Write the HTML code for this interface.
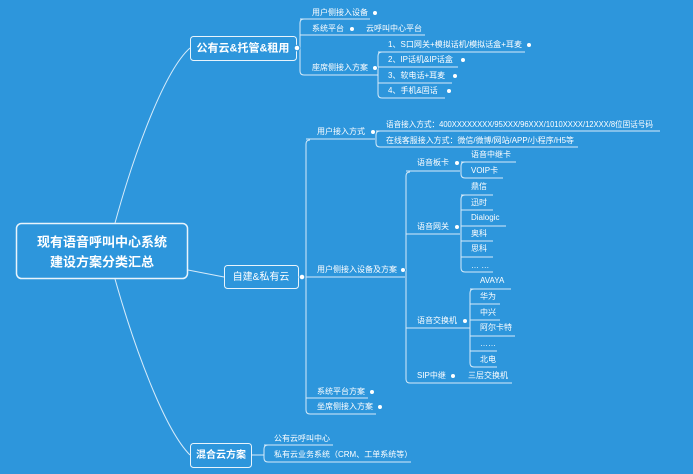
<!DOCTYPE html>
<html><head><meta charset="utf-8"><style>
html,body{margin:0;padding:0;background:#2d96dc;}
svg{display:block;font-family:"Liberation Sans","Noto Sans CJK SC",sans-serif;}
text{fill:#fff;font-size:8px;dominant-baseline:middle;}
</style></head><body>
<svg width="693" height="474" viewBox="0 0 693 474">
<rect width="693" height="474" fill="#2d96dc"/>
<g fill="none" stroke="#d6ebfa" stroke-width="1">
<path d="M115,223 C135,150 165,70 190,48"/>
<path d="M188,270 L224,277"/>
<path d="M115,279 C135,350 165,430 190,455"/>
<path d="M300,19 L370,19"/>
<path d="M300,35 L425,35"/>
<path d="M304,19 Q300,19 300,23 L300,71 Q300,75 304,75 L378,75"/>
<path d="M378,52 L525,52"/>
<path d="M378,67 L458,67"/>
<path d="M378,83 L452,83"/>
<path d="M382,52 Q378,52 378,56 L378,94 Q378,98 382,98 L445,98"/>
<path d="M310,140 Q306,140 306,144 L306,410 Q306,414 310,414 L376,414"/>
<path d="M306,139 L375,139"/>
<path d="M306,277 L405,277"/>
<path d="M306,398 L368,398"/>
<path d="M376,131 L660,131"/>
<path d="M380,131 Q376,131 376,135 L376,143 Q376,147 380,147 L578,147"/>
<path d="M410,172 Q406,172 406,176 L406,379 Q406,383 410,383 L512,383"/>
<path d="M406,171 L460,171"/>
<path d="M406,234 L460,234"/>
<path d="M406,328 L470,328"/>
<path d="M461,162 L516,162"/>
<path d="M465,162 Q461,162 461,166 L461,174 Q461,178 465,178 L503,178"/>
<path d="M461,195 L493,195"/>
<path d="M465,195 Q461,195 461,199 L461,268 Q461,272 465,272 L493,272"/>
<path d="M461,210 L493,210"/>
<path d="M461,226 L506,226"/>
<path d="M461,241 L493,241"/>
<path d="M461,257 L493,257"/>
<path d="M470,289 L511,289"/>
<path d="M474,289 Q470,289 470,293 L470,363 Q470,367 474,367 L497,367"/>
<path d="M470,304 L500,304"/>
<path d="M470,320 L500,320"/>
<path d="M470,336 L515,336"/>
<path d="M470,351 L497,351"/>
<path d="M264,445 L333,445"/>
<path d="M268,445 Q264,445 264,449 L264,458 Q264,462 268,462 L411,462"/>
<path d="M252,455 L264,455"/>
</g>
<g fill="#2d96dc" stroke="#e8f4fc" stroke-width="1">
<rect x="16.5" y="223.5" width="171" height="55" rx="5" stroke-width="1.5"/>
<rect x="190.5" y="36.5" width="106" height="24" rx="3"/>
<rect x="224.5" y="265.5" width="74" height="23" rx="3"/>
<rect x="190.5" y="443.5" width="61" height="24" rx="3"/>
</g>
<text x="102" y="243" text-anchor="middle" style="font-size:13px;font-weight:bold">现有语音呼叫中心系统</text>
<text x="102" y="263" text-anchor="middle" style="font-size:13px;font-weight:bold">建设方案分类汇总</text>
<text x="243" y="48.5" text-anchor="middle" style="font-size:11px;font-weight:bold">公有云&amp;托管&amp;租用</text>
<text x="261" y="277.5" text-anchor="middle" style="font-size:10px">自建&amp;私有云</text>
<text x="221" y="455.5" text-anchor="middle" style="font-size:10px;font-weight:bold">混合云方案</text>
<g fill="#fff" stroke="#2d96dc" stroke-width="1">
<circle cx="297" cy="48" r="2.8"/><circle cx="375" cy="13" r="2.5"/><circle cx="352" cy="29" r="2.5"/>
<circle cx="375" cy="68" r="2.5"/><circle cx="529" cy="45" r="2.5"/><circle cx="463" cy="60" r="2.5"/>
<circle cx="455" cy="76" r="2.5"/><circle cx="449" cy="91" r="2.5"/>
<circle cx="302" cy="277" r="2.8"/><circle cx="373" cy="132" r="2.5"/><circle cx="403" cy="270" r="2.5"/>
<circle cx="457" cy="163" r="2.5"/><circle cx="457" cy="227" r="2.5"/><circle cx="465" cy="321" r="2.5"/>
<circle cx="453" cy="376" r="2.5"/><circle cx="372" cy="392" r="2.5"/><circle cx="380" cy="407" r="2.5"/>
</g>
<text x="312" y="13">用户侧接入设备</text>
<text x="312" y="29">系统平台</text>
<text x="366" y="29">云呼叫中心平台</text>
<text x="312" y="68">座席侧接入方案</text>
<text x="388" y="45" textLength="134" lengthAdjust="spacingAndGlyphs">1、S口网关+模拟话机/模拟话盒+耳麦</text>
<text x="388" y="60">2、IP话机&amp;IP话盒</text>
<text x="388" y="76">3、软电话+耳麦</text>
<text x="388" y="91">4、手机&amp;固话</text>
<text x="317" y="132">用户接入方式</text>
<text x="386" y="125" textLength="267" lengthAdjust="spacingAndGlyphs">语音接入方式：400XXXXXXXX/95XXX/96XXX/1010XXXX/12XXX/8位固话号码</text>
<text x="386" y="141" textLength="188" lengthAdjust="spacingAndGlyphs">在线客服接入方式：微信/微博/网站/APP/小程序/H5等</text>
<text x="317" y="270">用户侧接入设备及方案</text>
<text x="417" y="163">语音板卡</text>
<text x="471" y="155">语音中继卡</text>
<text x="471" y="171">VOIP卡</text>
<text x="417" y="227">语音网关</text>
<text x="471" y="187">鼎信</text>
<text x="471" y="203">迅时</text>
<text x="471" y="218">Dialogic</text>
<text x="471" y="234">奥科</text>
<text x="471" y="249">思科</text>
<text x="471" y="266">… …</text>
<text x="417" y="321">语音交换机</text>
<text x="480" y="281">AVAYA</text>
<text x="480" y="297">华为</text>
<text x="480" y="313">中兴</text>
<text x="480" y="328">阿尔卡特</text>
<text x="480" y="344">……</text>
<text x="480" y="360">北电</text>
<text x="417" y="376">SIP中继</text>
<text x="468" y="376">三层交换机</text>
<text x="317" y="392">系统平台方案</text>
<text x="317" y="407">坐席侧接入方案</text>
<text x="274" y="439">公有云呼叫中心</text>
<text x="274" y="455">私有云业务系统（CRM、工单系统等）</text>
</svg>
</body></html>
